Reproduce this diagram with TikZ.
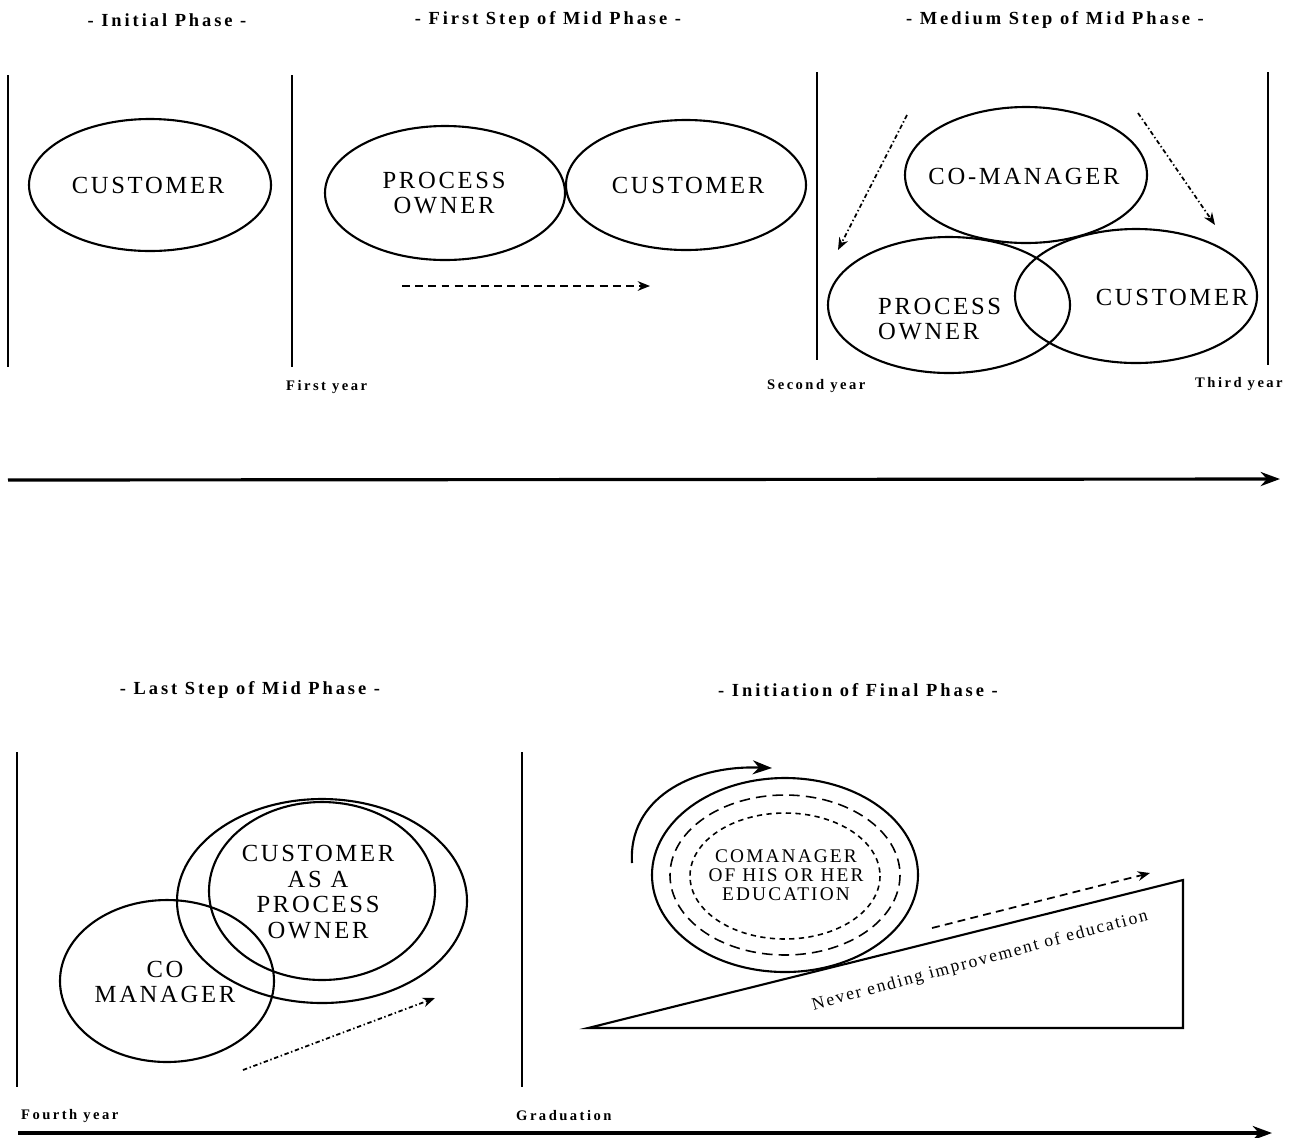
\documentclass[tikz,border=0pt]{standalone}
\usepackage{fontspec}
\setmainfont{Liberation Serif}
\newfontfamily\rolefont[LetterSpace=11]{Liberation Serif}
\newfontfamily\titlefont[LetterSpace=16]{Liberation Serif}
\newfontfamily\yearfont[LetterSpace=17]{Liberation Serif}
\usetikzlibrary{arrows.meta}

\tikzset{
  phasetitle/.style={font=\titlefont\bfseries\fontsize{10.5}{12}\selectfont},
  yearlabel/.style={anchor=west,font=\yearfont\bfseries\fontsize{8.3}{10}\selectfont},
  role/.style={align=center,font=\rolefont\fontsize{14}{14.7}\selectfont},
  smallrole/.style={align=center,font=\rolefont\fontsize{11}{10.8}\selectfont},
  ring/.style={line width=1.2pt},
  divider/.style={line width=0.8pt},
  timeline/.style={line width=1.8pt,-{Stealth[length=11pt,width=8pt]}},
  dasharrow/.style={line width=1pt,dash pattern=on 4.5pt off 3pt,-{Stealth[length=7pt,width=5.5pt]}},
  dotarrow/.style={line width=1pt,dash pattern=on 2.5pt off 1.5pt on 0.8pt off 1.5pt,-{Stealth[length=7pt,width=5.5pt]}},
}

\begin{document}
\begin{tikzpicture}[x=0.02cm,y=-0.02cm]
  \useasboundingbox (0,0) rectangle (1294,1137);

  % upper row
  \node[phasetitle] (initial) at (167,20) {- Initial Phase -};
  \node[phasetitle] (firststep) at (548,20) {- First Step of Mid Phase -};
  \node[phasetitle] (mediumstep) at (1055,20) {- Medium Step of Mid Phase -};

  \draw[divider] (8,75) -- (8,367);
  \draw[divider] (292,75) -- (292,367);
  \draw[divider] (817,72) -- (817,360);
  \draw[divider] (1268,72) -- (1268,365);

  \draw[ring] (150,185) ellipse (121 and 66);
  \node[role] (cust1) at (148,185) {CUSTOMER};

  \draw[ring] (445,193) ellipse (120 and 67);
  \draw[ring] (686,185) ellipse (120 and 65);
  \node[role] (owner2) at (444,193) {PROCESS\\OWNER};
  \node[role] (cust2) at (688,185) {CUSTOMER};
  \coordinate (move2a) at (402,286);
  \coordinate (move2b) at (650,286);
  \draw[dasharrow] (move2a) -- (move2b);

  \draw[ring] (1026,175) ellipse (121 and 68);
  \draw[ring] (949,305) ellipse (121 and 68);
  \draw[ring] (1136,296) ellipse (121 and 67);
  \node[role] (coman3) at (1024,176) {CO-MANAGER};
  \node[role,align=left,anchor=west] (owner3) at (872,319) {PROCESS\\OWNER};
  \node[role] (cust3) at (1172,297) {CUSTOMER};
  \coordinate (left3a) at (907,115);
  \coordinate (left3b) at (838,250);
  \coordinate (right3a) at (1138,113);
  \coordinate (right3b) at (1215,225);
  \draw[dotarrow] (left3a) -- (left3b);
  \draw[dotarrow] (right3a) -- (right3b);

  \node[yearlabel] (year1) at (280,387) {First year};
  \node[yearlabel] (year2) at (761,386) {Second year};
  \node[yearlabel] (year3) at (1189,384) {Third year};

  \coordinate (timeA) at (8,480);
  \coordinate (timeB) at (1280,479);
  \draw[timeline] (timeA) -- (timeB);

  % lower row
  \node[phasetitle] (laststep) at (250,690) {- Last Step of Mid Phase -};
  \node[phasetitle] (finalphase) at (858,690) {- Initiation of Final Phase -};

  \draw[divider] (17,752) -- (17,1087);
  \draw[divider] (522,752) -- (522,1087);

  \draw[ring] (322,901) ellipse (145 and 102);
  \draw[ring] (322,891) ellipse (113 and 89);
  \draw[ring] (167,981) ellipse (107 and 81);
  \node[role] (cust4) at (318,892) {CUSTOMER\\AS A\\PROCESS\\OWNER};
  \node[role] (coman4) at (165,982) {CO\\MANAGER};
  \coordinate (move4a) at (243,1070);
  \coordinate (move4b) at (435,998);
  \draw[dotarrow] (move4a) -- (move4b);

  \coordinate (rampfoot) at (588,1028);
  \coordinate (ramptop) at (1183,880);
  \coordinate (rampcorner) at (1183,1028);
  \draw[ring] (rampfoot) -- (ramptop) -- (rampcorner) -- cycle;

  \draw[ring] (785,875) ellipse (133 and 97);
  \draw[line width=0.9pt,dash pattern=on 6pt off 3.5pt] (785,875) ellipse (115 and 80);
  \draw[line width=0.9pt,dash pattern=on 3pt off 2.5pt] (785,876) ellipse (95 and 63);
  \node[smallrole] (self5) at (786,875) {COMANAGER\\OF HIS OR HER\\EDUCATION};
  \coordinate (spinA) at (632,863);
  \coordinate (spinB) at (772,768);
  \draw[line width=1.2pt,-{Stealth[length=11pt,width=8pt]}]
    (spinA) .. controls (628,800) and (690,765) .. (spinB);
  \coordinate (roll5a) at (932,928);
  \coordinate (roll5b) at (1150,873);
  \draw[dasharrow] (roll5a) -- (roll5b);
  \node[font=\rolefont\fontsize{10}{12}\selectfont,rotate=15] (slope) at (980,961)
    {Never ending improvement of education};

  \node[yearlabel] (year4) at (15,1116) {Fourth year};
  \node[yearlabel] (grad) at (510,1116) {Graduation};

  \coordinate (timeC) at (18,1133);
  \coordinate (timeD) at (1272,1133);
  \draw[timeline] (timeC) -- (timeD);
\end{tikzpicture}
\end{document}
